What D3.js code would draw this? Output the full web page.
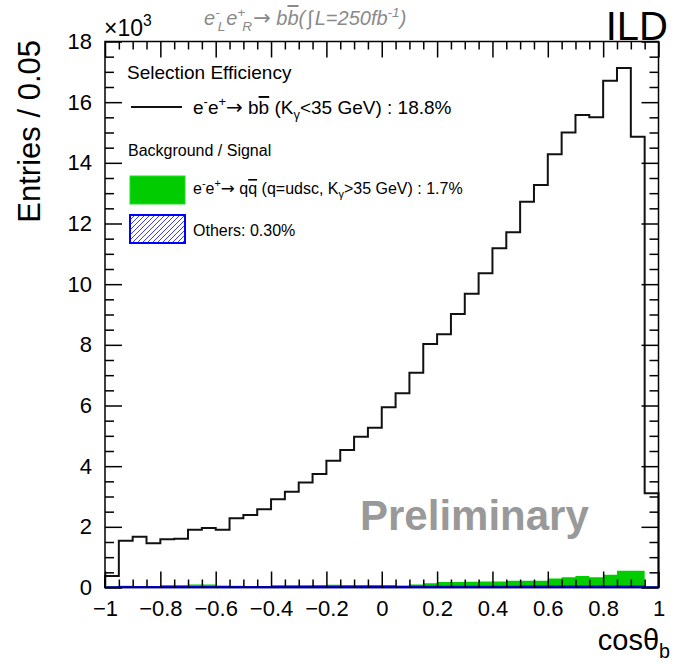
<!DOCTYPE html>
<html>
<head>
<meta charset="utf-8">
<script src="https://cdn.jsdelivr.net/npm/d3@7"></script>
<style>
  body { margin: 0; background: #fff; }
  text { font-family: "Liberation Sans", Arial, Helvetica, sans-serif; }
</style>
</head>
<body>
<svg id="chart" width="675" height="664"></svg>
<script>
// cos(theta_b) bins, width 0.05, from -1 to 1
const binWidth = 0.05;
const binLow = d3.range(40).map(i => -1 + i * binWidth);

// e-e+ -> bbbar (K_gamma < 35 GeV), entries per bin
const signal = [380, 1540, 1670, 1460, 1590, 1610, 1900, 1960, 1900, 2280,
                2390, 2580, 2910, 3160, 3460, 3740, 4180, 4530, 4970, 5270,
                5940, 6400, 7080, 8030, 8350, 9020, 9680, 10360, 11180, 11710,
                12720, 13270, 14280, 15000, 15580, 15500, 16710, 17130, 14860, 3110];

// e-e+ -> qqbar (q=udsc, K_gamma > 35 GeV)
const qqbar = [10, 35, 15, 15, 55, 55, 75, 75, 45, 35,
               15, 15, 55, 55, 55, 50, 60, 50, 50, 50,
               50, 30, 70, 110, 145, 145, 155, 165, 165, 185,
               180, 180, 260, 300, 340, 300, 375, 505, 505, 10];

// others
const others = [20, 25, 25, 25, 25, 25, 25, 25, 25, 25,
                25, 25, 25, 25, 25, 30, 30, 30, 30, 30,
                30, 30, 30, 30, 35, 35, 35, 35, 35, 35,
                40, 40, 40, 40, 40, 40, 45, 45, 45, 20];

const xMajor = [-1, -0.8, -0.6, -0.4, -0.2, 0, 0.2, 0.4, 0.6, 0.8, 1];
const yMajor = [0, 2000, 4000, 6000, 8000, 10000, 12000, 14000, 16000, 18000];

const L = 105, R = 658.5, T = 41.5, B = 587.5;

const svg = d3.select("#chart");
const x = d3.scaleLinear().domain([-1, 1]).range([L, R]);
const y = d3.scaleLinear().domain([0, 18000]).range([B, T]);

// hatch for "others"
const defs = svg.append("defs");
const pat = defs.append("pattern")
    .attr("id", "hatch")
    .attr("patternUnits", "userSpaceOnUse")
    .attr("width", 5).attr("height", 5);
pat.append("path")
    .attr("d", "M-1,1 l2,-2 M0,5 l5,-5 M4,6 l2,-2")
    .attr("stroke", "#3c3cff").attr("stroke-width", 1);

// stacked background
const rows = binLow.map((lo, i) => ({lo, others: others[i], qq: qqbar[i]}));
rows.push({lo: 1, others: others[others.length - 1], qq: qqbar[qqbar.length - 1]});
const stack = d3.stack().keys(["others", "qq"])(rows);

const area = d3.area()
    .curve(d3.curveStepAfter)
    .x(d => x(d.data.lo))
    .y0(d => y(d[0]))
    .y1(d => y(d[1]));

svg.append("path")
    .datum(stack[1])
    .attr("d", area)
    .attr("fill", "#00cc00");

svg.append("path")
    .datum(stack[0])
    .attr("d", area)
    .attr("fill", "url(#hatch)")
    .attr("stroke", "#0000ff")
    .attr("stroke-width", 1.5);

// signal histogram outline
const pts = [[-1, 0]];
binLow.forEach((lo, i) => pts.push([lo, signal[i]]));
pts.push([1, signal[signal.length - 1]]);
pts.push([1, 0]);

svg.append("path")
    .datum(pts)
    .attr("d", d3.line().curve(d3.curveStepAfter).x(d => x(d[0])).y(d => y(d[1])))
    .attr("fill", "none")
    .attr("stroke", "#111")
    .attr("stroke-width", 2);

// axes, ROOT style ticks pointing inward
const xMinor = d3.range(41).map(i => -1 + i * binWidth).filter(v => !xMajor.some(m => Math.abs(m - v) < 1e-9));
const yMinor = d3.range(37).map(i => i * 500).filter(v => v % 2000 !== 0);
const fmtX = d => d === 0 ? "0" : (d < 0 ? "\u2212" : "") + (+Math.abs(d).toFixed(1));

function styleAxis(g) {
  g.select(".domain").remove();
  g.selectAll("line").attr("stroke", "#000").attr("stroke-width", 1.5);
  g.selectAll("text").attr("font-size", 22).attr("fill", "#000")
   .attr("font-family", '"Liberation Sans", Arial, sans-serif');
}

svg.append("g").attr("transform", `translate(0,${B})`)
   .call(d3.axisBottom(x).tickValues(xMajor).tickSizeInner(-16).tickSizeOuter(0).tickPadding(13).tickFormat(fmtX))
   .call(styleAxis);
svg.append("g").attr("transform", `translate(0,${B})`)
   .call(d3.axisBottom(x).tickValues(xMinor).tickSize(-8).tickFormat(""))
   .call(styleAxis);
svg.append("g").attr("transform", `translate(0,${T})`)
   .call(d3.axisTop(x).tickValues(xMajor).tickSize(-16).tickFormat(""))
   .call(styleAxis);
svg.append("g").attr("transform", `translate(0,${T})`)
   .call(d3.axisTop(x).tickValues(xMinor).tickSize(-8).tickFormat(""))
   .call(styleAxis);

svg.append("g").attr("transform", `translate(${L},0)`)
   .call(d3.axisLeft(y).tickValues(yMajor).tickSizeInner(-17).tickSizeOuter(0).tickPadding(13).tickFormat(d => d / 1000))
   .call(styleAxis);
svg.append("g").attr("transform", `translate(${L},0)`)
   .call(d3.axisLeft(y).tickValues(yMinor).tickSize(-9).tickFormat(""))
   .call(styleAxis);
svg.append("g").attr("transform", `translate(${R},0)`)
   .call(d3.axisRight(y).tickValues(yMajor).tickSize(-17).tickFormat(""))
   .call(styleAxis);
svg.append("g").attr("transform", `translate(${R},0)`)
   .call(d3.axisRight(y).tickValues(yMinor).tickSize(-9).tickFormat(""))
   .call(styleAxis);

svg.append("rect")
    .attr("x", L).attr("y", T).attr("width", R - L).attr("height", B - T)
    .attr("fill", "none").attr("stroke", "#000").attr("stroke-width", 1.5);

// rich text helper: parts are [text, "sup"|"sub"|"bar"|"arrow"|undefined, dx]
function rich(sel, parts, size) {
  let shift = 0;
  parts.forEach(([t, kind, extra]) => {
    const ts = sel.append("tspan").text(t);
    let target = 0;
    if (kind === "sup") { target = -0.42 * size; ts.attr("font-size", size * 0.68); }
    if (kind === "sub") { target = 0.28 * size; ts.attr("font-size", size * 0.68); }
    if (kind === "bar") ts.style("text-decoration", "overline");
    if (kind === "arrow") ts.attr("font-family", '"DejaVu Sans", sans-serif').attr("font-size", size * 1.05);
    ts.attr("dy", target - shift);
    if (extra) ts.attr("dx", extra);
    shift = target;
  });
  return sel;
}

// y title
svg.append("text")
    .attr("transform", "translate(40,40) rotate(-90)")
    .attr("text-anchor", "end")
    .attr("font-size", 31)
    .text("Entries / 0.05");

// x title
rich(svg.append("text").attr("x", 670).attr("y", 650).attr("text-anchor", "end").attr("font-size", 29),
     [["cos\u03b8"], ["b", "sub"]], 29);

// x10^3
rich(svg.append("text").attr("x", 104).attr("y", 36).attr("font-size", 23),
     [["\u00d710"], ["3", "sup"]], 23);

// header
rich(svg.append("text").attr("x", 204).attr("y", 25).attr("font-size", 20)
        .attr("font-style", "italic").attr("fill", "#8a8a8a"),
     [["e"], ["-", "sup"], ["L", "sub", -2], ["e", null, 1], ["+", "sup"], ["R", "sub", -3],
      ["\u2192", "arrow", 1], [" b"], ["b", "bar"], ["("], ["\u222b", null, 2], ["L=250fb", null, 2], ["-1", "sup"], [")"]], 20);

// ILD
svg.append("text").attr("x", 668).attr("y", 40).attr("text-anchor", "end")
    .attr("font-size", 40).text("ILD");

// Preliminary
svg.append("text").attr("x", 360).attr("y", 530)
    .attr("font-size", 42).attr("font-weight", "bold").attr("fill", "#999")
    .text("Preliminary");

// legend
svg.append("text").attr("x", 127).attr("y", 79).attr("font-size", 19).text("Selection Efficiency");
svg.append("line").attr("x1", 131).attr("x2", 182).attr("y1", 107).attr("y2", 107)
    .attr("stroke", "#111").attr("stroke-width", 2);
rich(svg.append("text").attr("x", 193).attr("y", 114).attr("font-size", 19),
     [["e"], ["-", "sup"], ["e"], ["+", "sup"], ["\u2192", "arrow"], [" b"], ["b", "bar"], [" (K"], ["\u03b3", "sub"], ["<35 GeV) : 18.8%"]], 19);

svg.append("text").attr("x", 128).attr("y", 156).attr("font-size", 16).text("Background / Signal");

svg.append("rect").attr("x", 130).attr("y", 176).attr("width", 55).attr("height", 28)
    .attr("fill", "#00cc00").attr("stroke", "#22dd22").attr("stroke-width", 1);
rich(svg.append("text").attr("x", 193).attr("y", 194).attr("font-size", 16),
     [["e"], ["-", "sup"], ["e"], ["+", "sup"], ["\u2192", "arrow"], [" q"], ["q", "bar"], [" (q=udsc, K"], ["\u03b3", "sub"], [">35 GeV) : 1.7%"]], 16);

svg.append("rect").attr("x", 130).attr("y", 215).attr("width", 55).attr("height", 28)
    .attr("fill", "url(#hatch)").attr("stroke", "#0000ff").attr("stroke-width", 2);
svg.append("text").attr("x", 193).attr("y", 236).attr("font-size", 16).text("Others: 0.30%");
</script>
</body>
</html>
